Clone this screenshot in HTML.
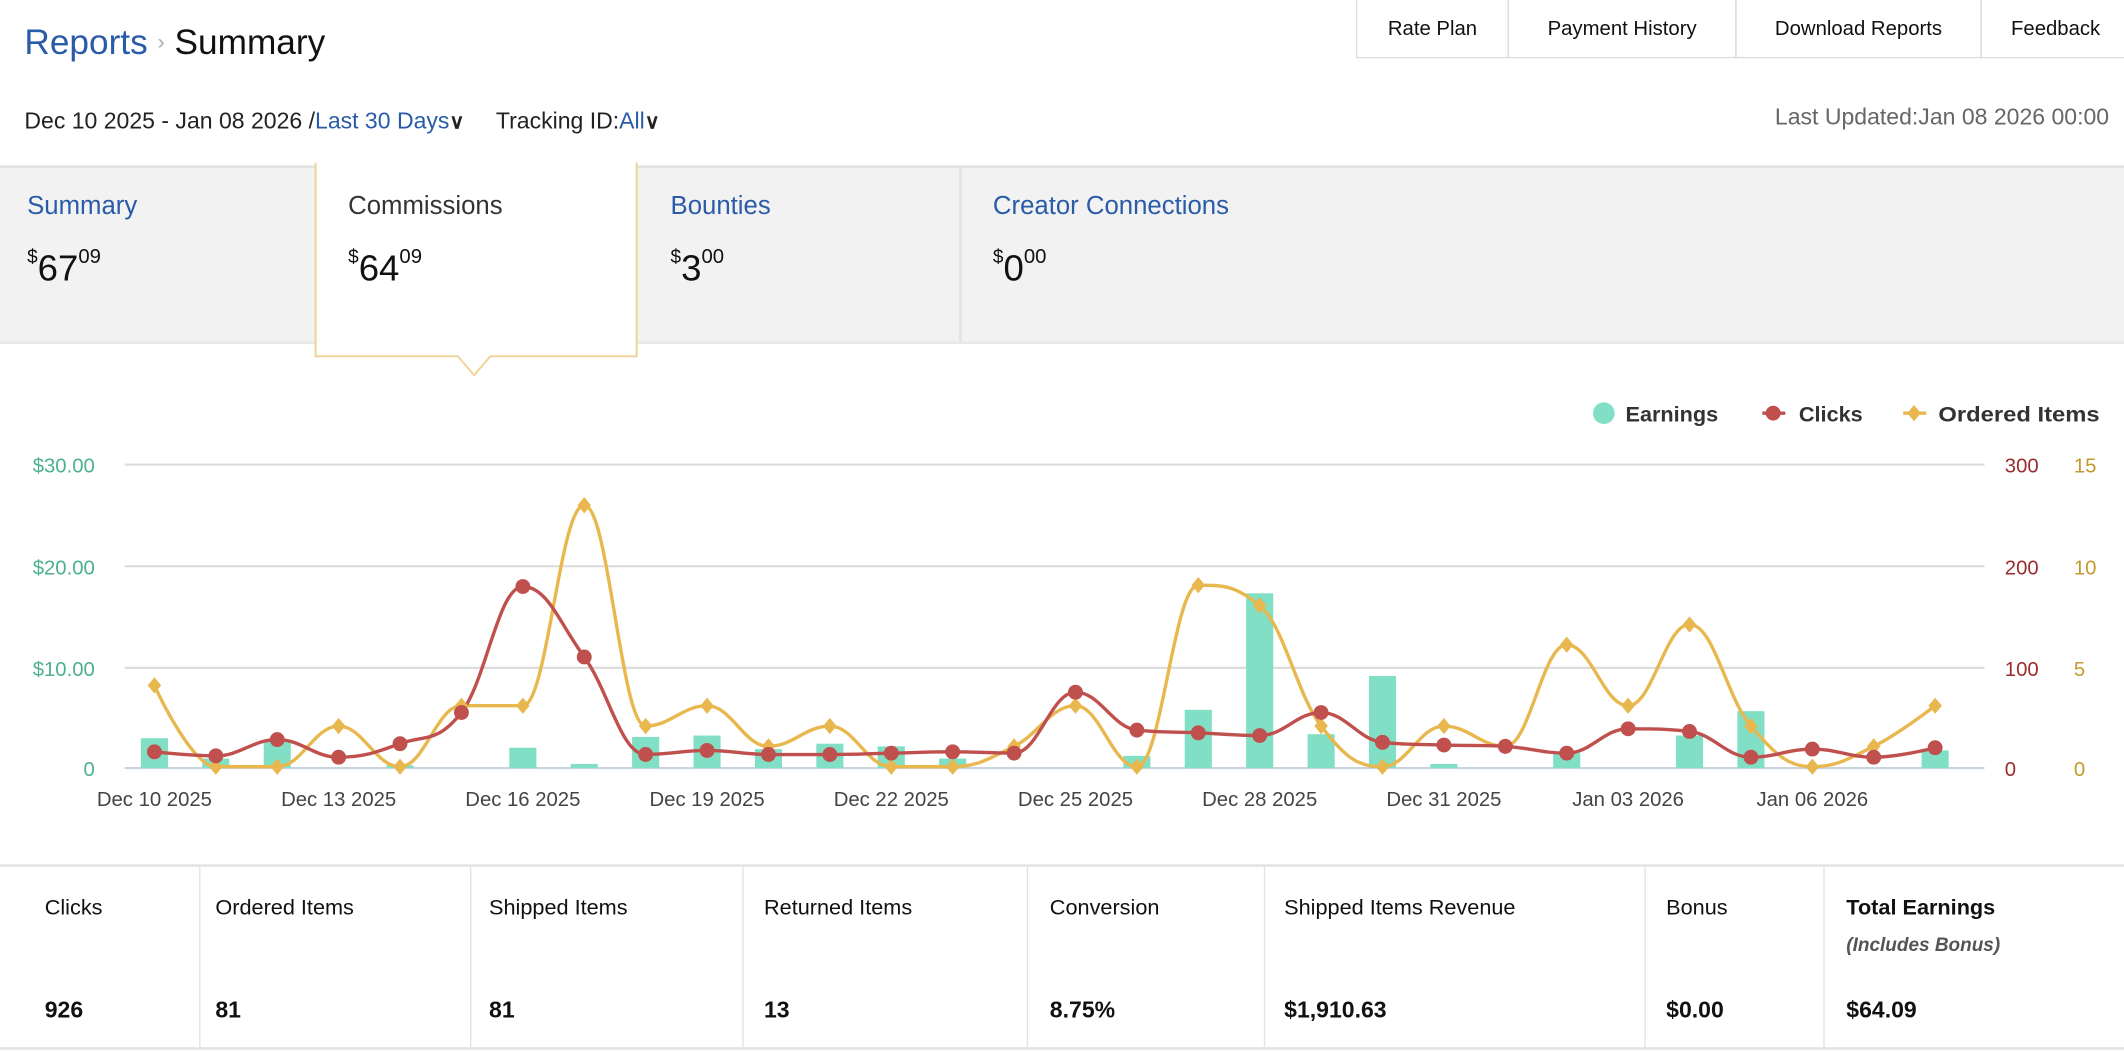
<!DOCTYPE html>
<html><head><meta charset="utf-8">
<style>
html,body{margin:0;padding:0;background:#fff;overflow:hidden;width:2124px;height:1050px}
#w{position:absolute;left:0;top:0;width:1568px;height:776px;transform:scale(1.354592);transform-origin:0 0;font-family:"Liberation Sans",sans-serif;color:#111}
.a{position:absolute;white-space:nowrap}
.blue{color:#2a5ba8}
.tab{position:absolute;top:0;height:43px;border:1px solid #ddd;border-top:none;font-size:15px;line-height:43px;text-align:center;color:#111;box-sizing:border-box}
.tt{font-size:19px}
.amt{font-size:27px}
.amt sup{font-size:14px;vertical-align:top;position:relative;top:-2px}
.amt sup.c{font-size:15px}
.cell{position:absolute;top:640px;height:133px;border-right:1px solid #e2e2e2;box-sizing:border-box}
.cl{position:absolute;top:22px;font-size:16px;color:#111}
.cv{position:absolute;top:96px;font-size:17px;font-weight:bold;color:#111}
</style></head><body>
<div id="w">
<div class="a" style="left:18px;top:16px;font-size:26px"><span class="blue">Reports</span> <span style="color:#aaa;font-size:16px;position:relative;top:-4px">›</span> <span>Summary</span></div>
<div class="tab" style="left:1001px;width:113px">Rate Plan</div>
<div class="tab" style="left:1113px;width:169px">Payment History</div>
<div class="tab" style="left:1281px;width:182px">Download Reports</div>
<div class="tab" style="left:1462px;width:110px;border-right:none">Feedback</div>
<div class="a" style="left:18px;top:80px;font-size:17px;color:#222">Dec 10 2025 - Jan 08 2026 /<span class="blue">Last 30 Days</span><b style="font-size:15px">&#x2228;</b>&nbsp;&nbsp;&nbsp;&nbsp; Tracking ID:<span class="blue">All</span><b style="font-size:15px">&#x2228;</b></div>
<div class="a" style="right:11px;top:77px;font-size:17px;color:#666">Last Updated:Jan 08 2026 00:00</div>
<div class="a" style="left:0;top:122px;width:1568px;height:132px;background:#f2f2f2;border-top:2px solid #e4e4e4;border-bottom:2px solid #e8e8e8;box-sizing:border-box"></div>
<div class="a" style="left:708px;top:124px;width:2px;height:128px;background:#e3e3e3"></div>
<svg class="a" style="left:0;top:0" width="1568" height="300">
<path d="M233 120 V263 H338 L350 277 L362 263 H470 V120" fill="#fff" stroke="#f0d59a" stroke-width="1.5"/>
</svg>
<div class="a tt blue" style="left:20px;top:142px">Summary</div>
<div class="a amt" style="left:20px;top:183px"><sup>$</sup>67<sup class="c">09</sup></div>
<div class="a tt" style="left:257px;top:142px;color:#333">Commissions</div>
<div class="a amt" style="left:257px;top:183px"><sup>$</sup>64<sup class="c">09</sup></div>
<div class="a tt blue" style="left:495px;top:142px">Bounties</div>
<div class="a amt" style="left:495px;top:183px"><sup>$</sup>3<sup class="c">00</sup></div>
<div class="a tt blue" style="left:733px;top:142px">Creator Connections</div>
<div class="a amt" style="left:733px;top:183px"><sup>$</sup>0<sup class="c">00</sup></div>

<svg id="ch" class="a" style="left:0;top:280px" width="1568" height="340" font-family="Liberation Sans, sans-serif"></svg>

<div class="a" style="left:0;top:638px;width:1568px;height:2px;background:#e4e4e4"></div>
<div class="a" style="left:0;top:773px;width:1568px;height:2px;background:#e4e4e4"></div>
<div class="cell" style="left:0;width:148px"><div class="cl" style="left:33px">Clicks</div><div class="cv" style="left:33px">926</div></div>
<div class="cell" style="left:148px;width:200px"><div class="cl" style="left:11px">Ordered Items</div><div class="cv" style="left:11px">81</div></div>
<div class="cell" style="left:348px;width:201px"><div class="cl" style="left:13px">Shipped Items</div><div class="cv" style="left:13px">81</div></div>
<div class="cell" style="left:549px;width:210px"><div class="cl" style="left:15px">Returned Items</div><div class="cv" style="left:15px">13</div></div>
<div class="cell" style="left:759px;width:175px"><div class="cl" style="left:16px">Conversion</div><div class="cv" style="left:16px">8.75%</div></div>
<div class="cell" style="left:934px;width:281px"><div class="cl" style="left:14px">Shipped Items Revenue</div><div class="cv" style="left:14px">$1,910.63</div></div>
<div class="cell" style="left:1215px;width:132px"><div class="cl" style="left:15px">Bonus</div><div class="cv" style="left:15px">$0.00</div></div>
<div class="cell" style="left:1347px;width:221px;border:none"><div class="cl" style="left:16px;font-weight:bold">Total Earnings</div><div class="a" style="left:16px;top:49px;font-size:14px;font-style:italic;font-weight:bold;color:#555">(Includes Bonus)</div><div class="cv" style="left:16px">$64.09</div></div>
</div>
<script>
(function(){
var s=document.getElementById('ch'),o=280,h='';
function Y(v){return v-o;}
var gl=[343,418,493,567];
gl.forEach(function(g,i){h+='<line x1="92" x2="1465" y1="'+Y(g)+'" y2="'+Y(g)+'" stroke="'+(i==3?'#c8d3dd':'#dadada')+'" stroke-width="1.5"/>';});
var lt=['$30.00','$20.00','$10.00','0'],rt=['300','200','100','0'],it=['15','10','5','0'];
gl.forEach(function(g,i){
h+='<text x="70" y="'+(Y(g)+6)+'" text-anchor="end" font-size="15" fill="#4db08e">'+lt[i]+'</text>';
h+='<text x="1480" y="'+(Y(g)+6)+'" font-size="15" fill="#9b2d2d">'+rt[i]+'</text>';
h+='<text x="1531" y="'+(Y(g)+6)+'" font-size="15" fill="#c29a2e">'+it[i]+'</text>';});
var X=function(i){return 114+45.33*i;};
var xl=['Dec 10 2025','Dec 13 2025','Dec 16 2025','Dec 19 2025','Dec 22 2025','Dec 25 2025','Dec 28 2025','Dec 31 2025','Jan 03 2026','Jan 06 2026'];
xl.forEach(function(t,k){h+='<text x="'+X(k*3)+'" y="'+Y(595)+'" text-anchor="middle" font-size="15" fill="#444">'+t+'</text>';});
var bars={0:545,1:560,2:547,4:565,6:552,7:564,8:544,9:543,10:553,11:549,12:551,13:560,16:558,17:524,18:438,19:542,20:499,21:564,23:556,25:543,26:525,29:554};
for(var k in bars){h+='<rect x="'+(X(+k)-10)+'" y="'+Y(bars[k])+'" width="20" height="'+(567-bars[k])+'" fill="#80dfc4"/>';}
var cl=[555,558,546,559,549,526,433,485,557,554,557,557,556,555,556,511,539,541,543,526,548,550,551,556,538,540,559,553,559,552];
var oi=[506,566,566,536,566,521,521,373,536,521,551,536,566,566,551,521,566,432,447,536,566,536,551,476,521,461,536,566,551,521];
function sp(ys){var p=ys.map(function(y,i){return [X(i),Y(y)];});var d='M'+p[0][0]+' '+p[0][1],prc=p[0];
for(var i=1;i<p.length;i++){var x=p[i][0],y=p[i][1],l=p[i-1],n=p[i+1],lc,rc;
if(n){var lcx=(1.5*x+l[0])/2.5,lcy=(1.5*y+l[1])/2.5,rcx=(1.5*x+n[0])/2.5,rcy=(1.5*y+n[1])/2.5;
var c=((rcy-lcy)*(rcx-x))/(rcx-lcx)+y-rcy;lcy+=c;rcy+=c;
if(lcy>l[1]&&lcy>y){lcy=Math.max(l[1],y);rcy=2*y-lcy;}else if(lcy<l[1]&&lcy<y){lcy=Math.min(l[1],y);rcy=2*y-lcy;}
if(rcy>n[1]&&rcy>y){rcy=Math.max(n[1],y);lcy=2*y-rcy;}else if(rcy<n[1]&&rcy<y){rcy=Math.min(n[1],y);lcy=2*y-rcy;}
lc=[lcx,lcy];rc=[rcx,rcy];}else{lc=[x,y];rc=[x,y];}
d+=' C'+prc[0].toFixed(1)+' '+prc[1].toFixed(1)+' '+lc[0].toFixed(1)+' '+lc[1].toFixed(1)+' '+x.toFixed(1)+' '+y.toFixed(1);prc=rc;}
return d;}
h+='<path d="'+sp(oi)+'" fill="none" stroke="#e8b84f" stroke-width="2.5"/>';
h+='<path d="'+sp(cl)+'" fill="none" stroke="#c0504d" stroke-width="2.5"/>';
oi.forEach(function(y,i){var x=X(i),yy=Y(y);h+='<path d="M'+x+' '+(yy-6)+' L'+(x+5)+' '+yy+' L'+x+' '+(yy+6)+' L'+(x-5)+' '+yy+'Z" fill="#e8b84f"/>';});
cl.forEach(function(y,i){h+='<circle cx="'+X(i)+'" cy="'+Y(y)+'" r="5.5" fill="#c0504d"/>';});
var ly=Y(305);
h+='<circle cx="1184" cy="'+ly+'" r="8" fill="#80dfc4"/><text x="1200" y="'+(ly+6)+'" font-size="16" font-weight="bold" fill="#333">Earnings</text>';
h+='<line x1="1301" x2="1318" y1="'+ly+'" y2="'+ly+'" stroke="#c0504d" stroke-width="2.5"/><circle cx="1309" cy="'+ly+'" r="5.5" fill="#c0504d"/><text x="1328" y="'+(ly+6)+'" font-size="16" font-weight="bold" fill="#333">Clicks</text>';
h+='<line x1="1405" x2="1422" y1="'+ly+'" y2="'+ly+'" stroke="#e8b84f" stroke-width="2.5"/><path d="M1413 '+(ly-6)+' l5 6 l-5 6 l-5 -6Z" fill="#e8b84f"/><text x="1431" y="'+(ly+6)+'" font-size="16" font-weight="bold" fill="#333" textLength="119" lengthAdjust="spacingAndGlyphs">Ordered Items</text>';
s.innerHTML=h;})();
</script>
</body></html>
